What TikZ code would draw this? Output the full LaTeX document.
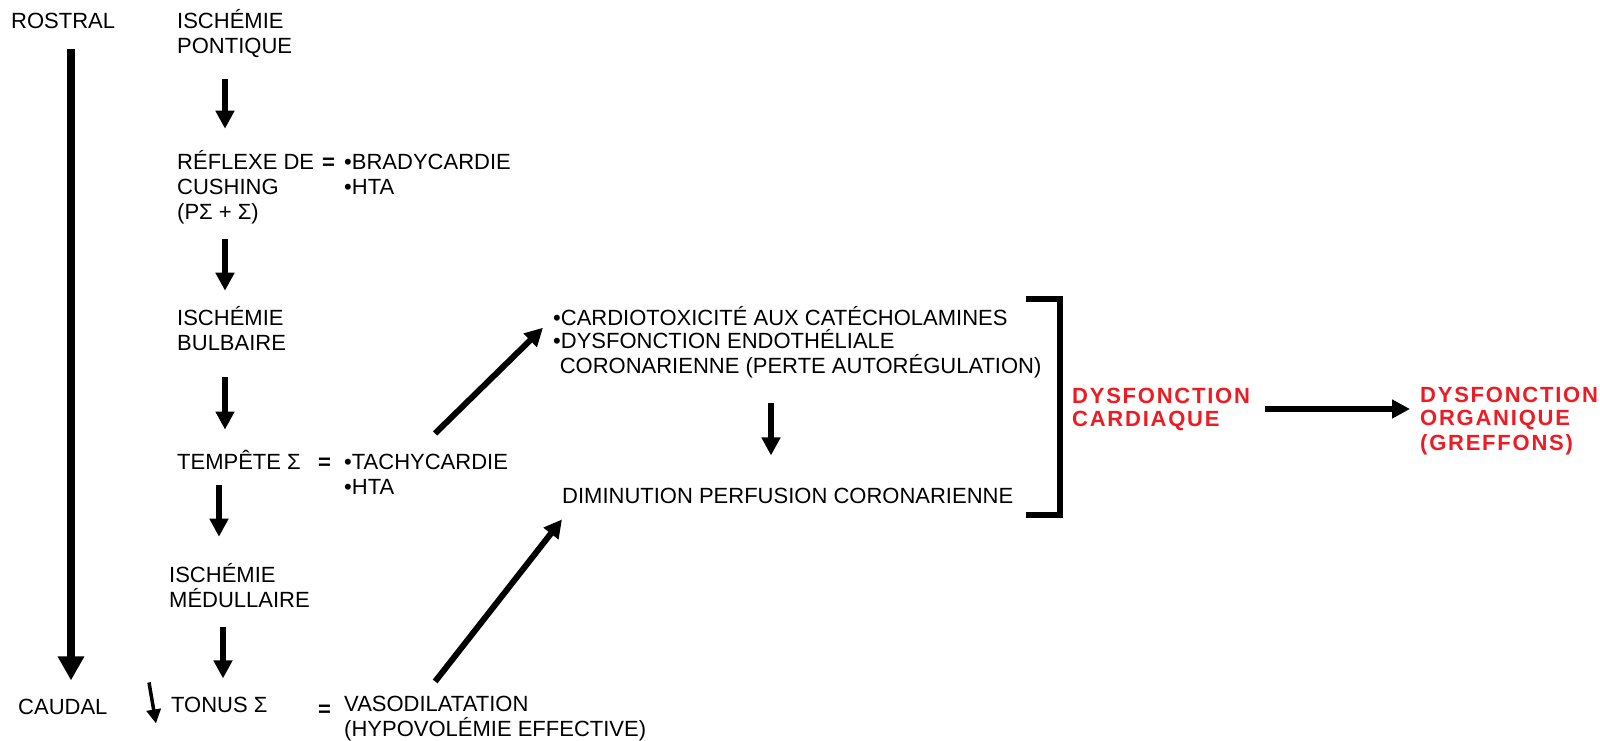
\documentclass[tikz,border=0pt]{standalone}
\usepackage{fontspec}
\setmainfont{Liberation Sans}
\usetikzlibrary{arrows.meta}
\definecolor{alertred}{RGB}{237,28,36}

\begin{document}
\begin{tikzpicture}[x=1pt,y=-1pt,
    >={Triangle[length=18pt,width=18pt]},
    txt/.style={anchor=base west,inner sep=0pt,align=left,
        font=\fontsize{22}{25}\selectfont},
    alert/.style={txt,text=alertred,
        font=\fontsize{22}{23}\selectfont\bfseries\addfontfeatures{LetterSpace=8}},
    arr/.style={->,line width=6pt},
    bigarr/.style={-{Triangle[length=24pt,width=25pt]},line width=7.5pt}]
    \useasboundingbox (0,0) rectangle (1600,740);
    % axes of the arrows
    \coordinate (leftx) at (71,0);
    \coordinate (colx) at (225,0);
    \coordinate (midx) at (771,0);
    % left column (base = last line)
    \node[txt] (rostral) at (11,28) {ROSTRAL};
    \node[txt] (caudal) at (18,714) {CAUDAL};
    \node[txt] (pontique) at (177,53) {ISCHÉMIE\\PONTIQUE};
    \node[txt] (reflexe) at (177,219) {RÉFLEXE DE\\CUSHING\\(PΣ + Σ)};
    \node[txt] (eqa) at (322,169) {\textbf{=}};
    \node[txt] (brady) at (344,194) {•BRADYCARDIE\\•HTA};
    \node[txt] (bulbaire) at (177,350) {ISCHÉMIE\\BULBAIRE};
    \node[txt] (tempete) at (177,469) {TEMPÊTE Σ};
    \node[txt] (eqb) at (318,469) {\textbf{=}};
    \node[txt] (tachy) at (344,494) {•TACHYCARDIE\\•HTA};
    \node[txt] (medul) at (169,607) {ISCHÉMIE\\MÉDULLAIRE};
    \node[txt] (tonus) at (171,712) {TONUS Σ};
    \node[txt] (eqc) at (318,716) {\textbf{=}};
    \node[txt] (vaso) at (344,736) {VASODILATATION\\(HYPOVOLÉMIE EFFECTIVE)};
    % coronary block
    \node[txt] (cardio) at (553,373) {•CARDIOTOXICITÉ AUX CATÉCHOLAMINES\\[-2pt]
        •DYSFONCTION ENDOTHÉLIALE\\
        \hspace*{0.3em}CORONARIENNE (PERTE AUTORÉGULATION)};
    \node[txt] (dimin) at (562,503) {DIMINUTION PERFUSION CORONARIENNE};
    \node[alert] (cardiaque) at (1072,426) {DYSFONCTION\\CARDIAQUE};
    \node[alert] (organique) at (1420,450) {DYSFONCTION\\ORGANIQUE\\[2pt](GREFFONS)};

    % rostral -> caudal
    \draw[bigarr,shorten <=21pt,shorten >=18pt] (rostral.south -| leftx) -- (caudal.north -| leftx);
    \draw[->,line width=3.5pt,>={Triangle[length=14pt,width=14pt]}]
        ([shift={(-22,-22)}]tonus.west) -- ([shift={(-15,19)}]tonus.west);
    % cascade
    \draw[arr,shorten <=22pt,shorten >=21pt] (pontique.south -| colx) -- (reflexe.north -| colx);
    \draw[arr,shorten <=15pt,shorten >=15pt] (reflexe.south -| colx) -- (bulbaire.north -| colx);
    \draw[arr,shorten <=27pt,shorten >=20pt] (bulbaire.south -| colx) -- (tempete.north -| colx);
    \draw[arr,shorten <=16pt,shorten >=26pt] ([xshift=-6pt]tempete.south -| colx) -- ([xshift=-6pt]medul.north -| colx);
    \draw[arr,shorten <=20pt,shorten >=18pt] ([xshift=-2pt]medul.south -| colx) -- ([xshift=-2pt]tonus.north -| colx);
    % towards the heart
    \draw[arr] ([shift={(9,-20)}]tachy.north) -- ([shift={(-10,-14)}]cardio.west);
    \draw[arr] ([shift={(-60,-14)}]vaso.north) -- ([shift={(0,16)}]dimin.south west);
    \draw[arr,shorten <=25pt,shorten >=32pt] (cardio.south -| midx) -- (dimin.north -| midx);
    % bracket
    \draw[line width=5.5pt] (1026,299) -| (1060,515) -- (1026,515);
    \draw[arr,shorten <=15pt] (cardiaque.east) -- ([xshift=-10pt]cardiaque.east -| organique.west);
\end{tikzpicture}
\end{document}
